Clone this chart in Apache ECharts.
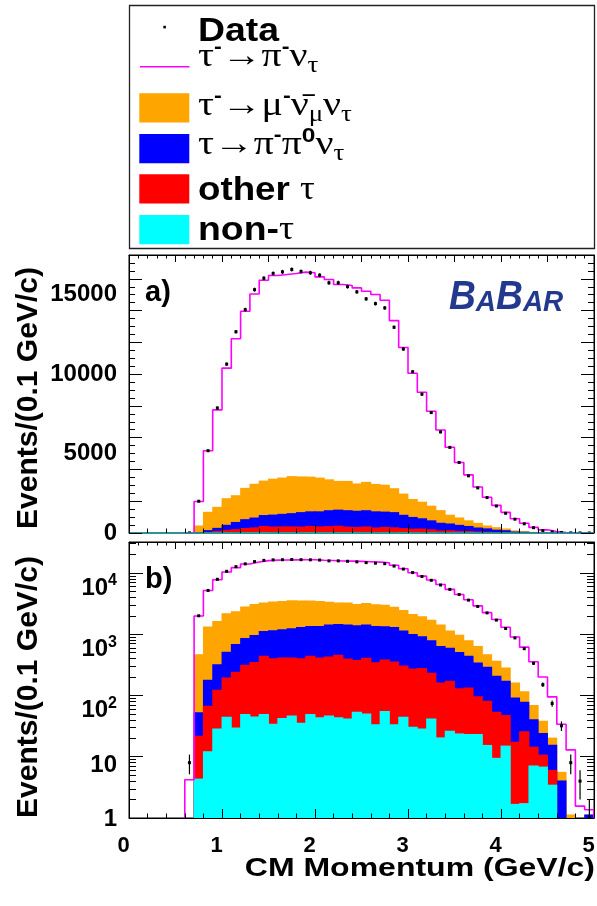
<!DOCTYPE html>
<html>
<head>
<meta charset="utf-8">
<title>CM Momentum</title>
<script src="https://cdn.jsdelivr.net/npm/echarts@6.0.0/dist/echarts.min.js"></script>
<style>
html,body{margin:0;padding:0;background:#ffffff;}
#chart{width:597px;height:906px;}
</style>
</head>
<body>
<div id="chart"></div>
<script>
// ---------------- data: bins of 0.1 GeV/c (lower edges) ----------------
const binLow = [0.0,0.1,0.2,0.3,0.4,0.5,0.6,0.7,0.8,0.9,
                1.0,1.1,1.2,1.3,1.4,1.5,1.6,1.7,1.8,1.9,
                2.0,2.1,2.2,2.3,2.4,2.5,2.6,2.7,2.8,2.9,
                3.0,3.1,3.2,3.3,3.4,3.5,3.6,3.7,3.8,3.9,
                4.0,4.1,4.2,4.3,4.4,4.5,4.6,4.7,4.8,4.9];
const binWidth = 0.1;

const dataCounts = [0,0,0,0,0,0,8,2000,5180,7870,
  10630,12670,14060,15320,16040,16340,16440,16590,16460,16380,
  16230,15750,15750,15510,15180,14740,14440,14170,12950,11580,
  10150,8740,7580,6360,5390,4440,3600,2840,2230,1700,
  1240,870,580,335,150,74,32,8,4,1];

const signalPiNu = [0,0,0,0,0,0,4.2,1508,3847,6103,
  8190,9850,11120,11950,12610,12790,12780,12760,12860,12830,
  12630,12580,12360,12300,12310,12000,11920,11610,10550,9200,
  7920,6890,5940,5040,4250,3460,2860,2260,1778,1373,
  1014,737,498,285,161,74.5,28.3,11.8,1.56,0.22];

const muNuNu = [0,0,0,0,0,0,0,419,1153,1323,
  1675,1685,1969,2125,2170,2260,2285,2330,2245,2185,
  2125,1945,1808,1845,1720,1785,1725,1692,1505,1334,
  1129,1043,923,795,550,468,356,295,179,158,
  112,70,38,29,14.3,4.8,1.57,1.14,0,0];

const piPi0 = [0,0,0,0,0,0,0,31,112,200,
  318,452,555,621,686,754,789,834,909,921,
  949,1003,1012,1034,1019,1024,1016,962,957,838,
  736,645,563,482,426,381,309,248,211,155,
  126,75.4,53,26.4,13.6,9.6,4.1,0,0,1.14];

const otherTau = [0,0,0,0,0,0,0,17.6,55.7,95,
  152,213,266,308,394,371,373,369,370,394,
  372,385,416,359,327,360,315,330,324,263,
  244,253,192,142,147,107,111,73.5,66.4,44.5,
  32.8,15.9,24.3,7.4,3.9,2.6,0,0,0,0];

const nonTau = [0,0,0,0,0,0,0,4.4,12.3,29,
  45,30,50,45.5,50,34.6,43,47,36,50,
  44,47,44,42,54,51,34,56,34,45,
  31,29,42,20.7,26.6,24,23.5,23.5,15.6,9.6,
  15.2,1.7,1.75,7.2,6.9,3.5,0,0,0,0];

const xRange = [0, 5];
const yLinRange = [0, 17500];
const yLogRange = [1, 32000];
const xTickLabels = ['0','1','2','3','4','5'];

// ---------------- names / styles ----------------
const seriesColors = {Data:'#000000', sig:'#ff00ff', mu:'#ffa500', pipi0:'#0000ff', other:'#ff0000', nontau:'#00ffff'};
const legendLabels = {
  Data:   '{bs|Data}',
  sig:    '{g|τ}{sup|-}{g|→π}{sup|-}{g|ν}{sub|τ}',
  mu:     '{g|τ}{sup|-}{g|→μ}{sup|-}{g|ν\u0304}{sub|μ}{g|ν}{sub|τ}',
  pipi0:  '{g|τ→π}{sup|-}{g|π}{sup0|0}{g|ν}{sub|τ}',
  other:  '{bs|other }{g|τ}',
  nontau: '{bs|non-}{g|τ}'
};

// ---------------- stacking ----------------
const cumNon   = nonTau.slice();
const cumOther = cumNon.map((v,i)=>v+otherTau[i]);
const cumPi0   = cumOther.map((v,i)=>v+piPi0[i]);
const cumMu    = cumPi0.map((v,i)=>v+muNuNu[i]);
const cumTotal = cumMu.map((v,i)=>v+signalPiNu[i]);

const SANS = '"Liberation Sans", Arial, Helvetica, sans-serif';
const SERIF = '"Liberation Serif", "DejaVu Serif", "Times New Roman", serif';

function barRenderer(base) {
  return function (params, api) {
    const x0 = api.value(0), x1 = api.value(1), v = api.value(2);
    if (!(v > base)) return;
    const pTop = api.coord([x0, v]);
    const pBot = api.coord([x1, base]);
    const ov = 0.45;
    return {
      type: 'rect',
      shape: {x: pTop[0]-ov, y: pTop[1], width: pBot[0]-pTop[0]+2*ov, height: pBot[1]-pTop[1]},
      style: {fill: api.visual('color')}
    };
  };
}

function dataRenderer(params, api) {
  const xc = api.value(0), n = api.value(1), lo = api.value(2), hi = api.value(3);
  const p = api.coord([xc, n]);
  const pl = api.coord([xc, lo]);
  const ph = api.coord([xc, hi]);
  return {
    type: 'group',
    children: [
      {type:'line', shape:{x1:p[0], y1:pl[1], x2:p[0], y2:ph[1]}, style:{stroke:'#000', lineWidth:1.2}},
      {type:'rect', shape:{x:p[0]-1.5, y:p[1]-1.5, width:3, height:3}, style:{fill:'#000'}}
    ]
  };
}

function panelSeries(panel) {
  const xIdx = panel === 0 ? 0 : 2;
  const yIdx = panel === 0 ? 0 : 3;
  const base = panel === 0 ? yLinRange[0] : yLogRange[0];
  const out = [];
  const stacks = [['mu', cumMu], ['pipi0', cumPi0], ['other', cumOther], ['nontau', cumNon]];
  stacks.forEach(([name, cum]) => {
    out.push({
      type: 'custom', name: name, xAxisIndex: xIdx, yAxisIndex: yIdx,
      itemStyle: {color: seriesColors[name]}, clip: true, z: 2,
      encode: {x: [0, 1], y: 2},
      renderItem: barRenderer(base),
      data: binLow.map((x, i) => [x, x + binWidth, cum[i]]).filter(d => d[2] > base)
    });
  });
  const first = cumTotal.findIndex(v => v > 0);
  const linePts = [[binLow[first], base]];
  for (let i = first; i < binLow.length; i++) linePts.push([binLow[i], cumTotal[i]]);
  linePts.push([xRange[1], cumTotal[cumTotal.length-1]]);
  linePts.push([xRange[1], base]);
  out.push({
    type: 'line', name: 'sig', xAxisIndex: xIdx, yAxisIndex: yIdx,
    step: 'end', symbol: 'none', showSymbol: false, clip: true, z: 3,
    itemStyle: {color: seriesColors.sig},
    lineStyle: {color: seriesColors.sig, width: 1.6},
    data: linePts
  });
  out.push({
    type: 'custom', name: 'Data', xAxisIndex: xIdx, yAxisIndex: yIdx,
    itemStyle: {color: '#000'}, clip: true, z: 4,
    encode: {x: 0, y: [1, 2, 3]},
    renderItem: dataRenderer,
    data: dataCounts.map((n, i) => {
      const e = Math.sqrt(n);
      return [binLow[i] + binWidth/2, n, Math.max(n - e, base), n + e];
    }).filter(d => d[1] > 0)
  });
  return out;
}

function xAxisDef(grid, pos, interval, minorSplit, tickLen, minorLen, showLabels, lineColor, lineWidth) {
  return {
    gridIndex: grid, type: 'value', position: pos, min: xRange[0], max: xRange[1], interval: interval,
    z: 6,
    axisLine: {show: true, onZero: false, lineStyle: {color: lineColor, width: lineWidth}},
    axisTick: {show: true, inside: true, length: tickLen, lineStyle: {color: '#000', width: 1}},
    minorTick: {show: true, splitNumber: minorSplit, length: minorLen, lineStyle: {color: '#000', width: 1}},
    splitLine: {show: false}, minorSplitLine: {show: false},
    axisLabel: showLabels ? {
      show: true, margin: 17, color: '#000', fontFamily: SANS, fontWeight: 'bold', fontSize: 22,
      padding: [0, 11, 0, 0],
      formatter: v => { const k = Math.round(v); return Math.abs(v - k) < 1e-9 ? xTickLabels[k] : ''; }
    } : {show: false}
  };
}

const logLabel = function (v) {
  const e = Math.round(Math.log10(v));
  if (Math.abs(v - Math.pow(10, e)) > 1e-6 * v) return '';
  if (e === 0) return '{one|1}';
  if (e === 1) return '{ten|10}';
  return '{m|10}{sup|' + e + '}';
};

const yTickAxis = (grid, pos) => ({
  gridIndex: grid, type: 'value', position: pos, min: yLinRange[0], max: yLinRange[1], interval: 2000, z: 6,
  axisLine: {show: true, onZero: false, lineStyle: {color: '#000', width: 1}},
  axisTick: {show: true, inside: true, length: 13, lineStyle: {color: '#000'}},
  minorTick: {show: true, splitNumber: 4, length: 6, lineStyle: {color: '#000'}},
  splitLine: {show: false}, minorSplitLine: {show: false}, axisLabel: {show: false}
});
const yLogAxis = (pos, labels) => ({
  gridIndex: 1, type: 'log', logBase: 10, position: pos, min: yLogRange[0], max: yLogRange[1], z: 6,
  axisLine: {show: true, onZero: false, lineStyle: {color: '#000', width: 1}},
  axisTick: {show: true, inside: true, length: 14, lineStyle: {color: '#000'}},
  minorTick: {show: true, splitNumber: 9, length: 7, lineStyle: {color: '#000'}},
  splitLine: {show: false}, minorSplitLine: {show: false},
  axisLabel: labels ? {
    show: true, margin: 12, color: '#000', fontFamily: SANS, fontWeight: 'bold', fontSize: 24,
    verticalAlign: 'top', showMaxLabel: false, formatter: logLabel,
    rich: {
      one: {fontFamily: SANS, fontWeight: 'bold', fontSize: 24, color: '#000', lineHeight: 2},
      ten: {fontFamily: SANS, fontWeight: 'bold', fontSize: 24, color: '#000', lineHeight: 18},
      m:   {fontFamily: SANS, fontWeight: 'bold', fontSize: 24, color: '#000', lineHeight: 27, verticalAlign: 'bottom'},
      sup: {fontFamily: SANS, fontWeight: 'bold', fontSize: 16, color: '#000', lineHeight: 8, verticalAlign: 'top'}
    }
  } : {show: false}
});

const yAxes = [
  yTickAxis(0, 'left'),
  yTickAxis(0, 'right'),
  {gridIndex: 0, type: 'value', position: 'left', min: yLinRange[0], max: yLinRange[1], interval: 5000, z: 6,
   axisLine: {show: false, onZero: false}, axisTick: {show: false}, splitLine: {show: false},
   axisLabel: {show: true, margin: 12, color: '#000', fontFamily: SANS, fontWeight: 'bold', fontSize: 24,
               showMaxLabel: false, formatter: v => String(v)}},
  yLogAxis('left', true),
  yLogAxis('right', false)
];

const xAxes = [
  xAxisDef(0, 'bottom', 1, 5, 9, 4.5, false, '#139a9a', 1.5),
  xAxisDef(0, 'top', 0.5, 5, 7, 3.5, false, '#000', 1),
  xAxisDef(1, 'bottom', 1, 5, 9, 4.5, true, '#000', 1),
  xAxisDef(1, 'top', 0.5, 5, 7, 3.5, false, '#000', 1)
];

// ---------------- legend (drawn as graphic, rich text) ----------------
const legendRich = {
  bs:   {fontFamily: SANS, fontWeight: 'bold', fontSize: 34, lineHeight: 40, fill: '#000'},
  g:    {fontFamily: SERIF, fontSize: 34, lineHeight: 40, fill: '#000'},
  sup:  {fontFamily: SANS, fontWeight: 'bold', fontSize: 20, lineHeight: 23, verticalAlign: 'top', fill: '#000'},
  sup0: {fontFamily: SANS, fontWeight: 'bold', fontSize: 21, lineHeight: 30, verticalAlign: 'top', fill: '#000'},
  sub:  {fontFamily: SERIF, fontSize: 23, lineHeight: 13, verticalAlign: 'bottom', fill: '#000'}
};
const legendRows = [
  {name: 'Data',   cy: 31.2,  sx: 1.1},
  {name: 'sig',    cy: 57.5,  sx: 1.17},
  {name: 'mu',     cy: 106.5, sx: 1.17},
  {name: 'pipi0',  cy: 145.5, sx: 1.17},
  {name: 'other',  cy: 190.2, sx: 1.08},
  {name: 'nontau', cy: 230.2, sx: 1.1}
];
const legendGraphics = [
  {type: 'rect', shape: {x: 129.5, y: 5.5, width: 465, height: 243}, z: -1,
   style: {fill: 'none', stroke: '#222', lineWidth: 1.3}},
  {type: 'rect', shape: {x: 163.3, y: 25.8, width: 2.6, height: 2.6}, style: {fill: seriesColors.Data}},
  {type: 'line', shape: {x1: 140, y1: 66.8, x2: 189.5, y2: 66.8}, style: {stroke: seriesColors.sig, lineWidth: 1.6}},
  {type: 'rect', shape: {x: 139.3, y: 93.3, width: 50, height: 29.3}, style: {fill: seriesColors.mu}},
  {type: 'rect', shape: {x: 139.3, y: 134, width: 50, height: 29.3}, style: {fill: seriesColors.pipi0}},
  {type: 'rect', shape: {x: 139.3, y: 174.3, width: 50, height: 29.3}, style: {fill: seriesColors.other}},
  {type: 'rect', shape: {x: 139.3, y: 215, width: 50, height: 29.3}, style: {fill: seriesColors.nontau}}
].concat(legendRows.map(r => ({
  type: 'text', x: 198, y: r.cy, scaleX: r.sx, z: 10,
  style: {text: legendLabels[r.name], verticalAlign: 'middle', fill: '#000', rich: legendRich}
})));

const option = {
  animation: false,
  backgroundColor: '#ffffff',
  textStyle: {fontFamily: SANS},
  grid: [
    {left: 129, top: 255, width: 465, height: 278, show: true, borderColor: '#000', borderWidth: 1,
     backgroundColor: '#fff', containLabel: false, outerBoundsMode: 'none'},
    {left: 129, top: 542, width: 465, height: 276, show: true, borderColor: '#000', borderWidth: 1,
     backgroundColor: '#fff', containLabel: false, outerBoundsMode: 'none'}
  ],
  xAxis: xAxes,
  yAxis: yAxes,
  graphic: legendGraphics.concat([
    {type: 'text', x: 449, y: 298, scaleX: 0.93, z: 10,
     style: {text: '{b|B}{s|A}{b|B}{s|AR}', fill: '#22398e', verticalAlign: 'middle',
             fontStyle: 'italic', fontWeight: 'bold', fontFamily: SANS,
             rich: {b: {fontSize: 40, lineHeight: 40, fontStyle: 'italic', fontWeight: 'bold', fontFamily: SANS, fill: '#22398e', verticalAlign: 'bottom'},
                    s: {fontSize: 30, lineHeight: 33, fontStyle: 'italic', fontWeight: 'bold', fontFamily: SANS, fill: '#22398e', verticalAlign: 'bottom'}}}},
    {type: 'text', x: 145, y: 293, z: 10,
     style: {text: 'a)', fill: '#000', font: 'bold 29px ' + SANS, verticalAlign: 'middle'}},
    {type: 'text', x: 145, y: 580, z: 10,
     style: {text: 'b)', fill: '#000', font: 'bold 29px ' + SANS, verticalAlign: 'middle'}},
    {type: 'text', x: 29, y: 398, rotation: Math.PI / 2, z: 10,
     style: {text: 'Events/(0.1 GeV/c)', fill: '#000', font: 'bold 30px ' + SANS, align: 'center', verticalAlign: 'middle'}},
    {type: 'text', x: 29, y: 687, rotation: Math.PI / 2, z: 10,
     style: {text: 'Events/(0.1 GeV/c)', fill: '#000', font: 'bold 30px ' + SANS, align: 'center', verticalAlign: 'middle'}},
    {type: 'text', x: 595, y: 869, scaleX: 1.28, z: 10,
     style: {text: 'CM Momentum (GeV/c)', fill: '#000', font: 'bold 25px ' + SANS, align: 'right', verticalAlign: 'middle'}}
  ]),
  series: panelSeries(0).concat(panelSeries(1))
};

const chart = echarts.init(document.getElementById('chart'), null, {renderer: 'canvas'});
chart.setOption(option);
</script>
</body>
</html>
